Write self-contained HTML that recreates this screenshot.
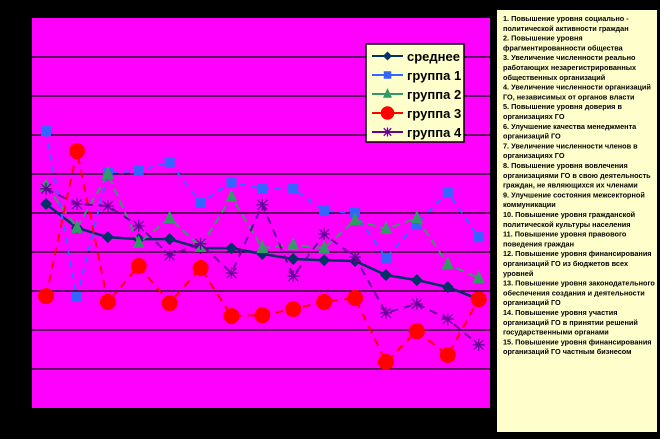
<!DOCTYPE html>
<html><head><meta charset="utf-8"><style>
html,body{margin:0;padding:0;background:#000;}
svg{display:block;font-family:"Liberation Sans",sans-serif;}
</style></head><body>
<svg id="chart" width="660" height="439">
<rect x="0" y="0" width="660" height="439" fill="#000"/>
<rect x="32" y="18" width="458" height="390" fill="#FF00FF"/>
<g id="grid"></g>
<g id="series"></g>
<g id="legend">
<rect x="366" y="44" width="98" height="98" fill="#FFFFCC" stroke="#000" stroke-width="1.5"/>
</g>
<rect x="497" y="10" width="160" height="422" fill="#FFFFCC"/>
<g id="notes" font-size="7.3" font-weight="bold" fill="#000"></g>
</svg>
<script>
const categories=["1","2","3","4","5","6","7","8","9","10","11","12","13","14","15"];
const seriesNames=["среднее","группа 1","группа 2","группа 3","группа 4"];
const avgValues=[5.23,4.62,4.38,4.33,4.33,4.10,4.10,3.95,3.82,3.79,3.77,3.41,3.28,3.10,2.79];
const group1Values=[7.10,2.85,6.03,6.08,6.31,5.26,5.79,5.62,5.62,5.05,5.00,3.85,4.72,5.54,4.38];
const group2Values=[5.69,4.62,6.00,4.23,4.87,4.13,5.41,4.10,4.18,4.10,4.82,4.59,4.87,3.69,3.33];
const group3Values=[2.87,6.59,2.72,3.64,2.69,3.59,2.36,2.38,2.54,2.72,2.82,1.18,1.97,1.36,2.79];
const group4Values=[5.62,5.23,5.18,4.67,3.92,4.21,3.46,5.21,3.38,4.46,3.87,2.44,2.67,2.28,1.62];
const gridTicks=[1,2,3,4,5,6,7,8,9];
const notes=["1. Повышение уровня социально -","политической активности граждан","2. Повышение уровня","фрагментированности общества","3. Увеличение численности реально","работающих незарегистрированных","общественных организаций","4. Увеличение численности организаций","ГО, независимых от органов власти","5. Повышение уровня доверия в","организациях ГО","6. Улучшение качества менеджмента","организаций ГО","7. Увеличение численности членов в","организациях ГО","8. Повышение уровня вовлечения","организациями ГО в свою деятельность","граждан, не являющихся их членами","9. Улучшение состояния межсекторной","коммуникации","10. Повышение уровня гражданской","политической культуры населения","11. Повышение уровня правового","поведения граждан","12. Повышение уровня финансирования","организаций ГО из бюджетов всех","уровней","13. Повышение уровня законодательного","обеспечения создания и деятельности","организаций ГО","14. Повышение уровня участия","организаций ГО в принятии решений","государственными органами","15. Повышение уровня финансирования","организаций ГО частным бизнесом"];

const NS="http://www.w3.org/2000/svg";
const left=30.6, bandW=30.9, y0=408, unit=39;
function xs(i){return left+(i+0.5)*bandW;}
function ys(v){return y0-v*unit;}
function mk(tag,attrs,parent){const e=document.createElementNS(NS,tag);for(const k in attrs)e.setAttribute(k,attrs[k]);parent.appendChild(e);return e;}

const grid=document.getElementById('grid');
gridTicks.forEach(t=>{
  const l=mk('line',{x1:32,x2:490,y1:ys(t),y2:ys(t),stroke:'#000','stroke-width':1.2},grid);
  
  
});

const styles=[
 {c:'#003366',m:'diamond',vals:avgValues,dash:'none',w:2.5},
 {c:'#3366FF',m:'square',vals:group1Values,dash:'6 6',w:2},
 {c:'#339966',m:'triangle',vals:group2Values,dash:'8 5',w:2},
 {c:'#FF0000',m:'circle',vals:group3Values,dash:'8 6',w:2},
 {c:'#660099',m:'star',vals:group4Values,dash:'8 6',w:2}
];
function marker(type,x,y,c,parent,s){
  s=s||1;let e;
  if(type==='diamond')e=mk('polygon',{points:`${x},${y-6*s} ${x+6*s},${y} ${x},${y+6*s} ${x-6*s},${y}`,fill:c},parent);
  else if(type==='square')e=mk('rect',{x:x-5*s,y:y-5*s,width:10*s,height:10*s,fill:c},parent);
  else if(type==='triangle')e=mk('polygon',{points:`${x},${y-8*s} ${x+6*s},${y+5*s} ${x-6*s},${y+5*s}`,fill:c},parent);
  else if(type==='circle')e=mk('circle',{cx:x,cy:y,r:8*s,fill:c},parent);
  else {e=mk('path',{d:`M${x-5*s} ${y-5*s}L${x+5*s} ${y+5*s}M${x+5*s} ${y-5*s}L${x-5*s} ${y+5*s}M${x} ${y-6*s}V${y+6*s}M${x-6*s} ${y}H${x+6*s}`,stroke:c,'stroke-width':1.3,fill:'none'},parent);}
  return e;
}
const sl=document.getElementById('series');
styles.forEach((st,si)=>{
  const g=mk('g',{},sl);
  
  
  const pts=st.vals.map((v,i)=>xs(i)+','+ys(v)).join(' ');
  const pl=mk('polyline',{points:pts,fill:'none',stroke:st.c,'stroke-width':st.w,'stroke-dasharray':st.dash},g);
  
  
  st.vals.forEach((v,i)=>{
    const m=marker(st.m,xs(i),ys(v),st.c,g);
    
    
  });
});

const lg=document.getElementById('legend');
styles.forEach((st,i)=>{
  const y=56+i*19;
  const g=mk('g',{},lg);
  
  
  mk('line',{x1:372,x2:403,y1:y,y2:y,stroke:st.c,'stroke-width':2},g);
  marker(st.m,387.5,y,st.c,g,st.m==='circle'?0.85:0.75);
  const t=mk('text',{x:407,y:y+5,'font-size':13,'font-weight':'bold',fill:'#000'},g);
  t.textContent=seriesNames[i];
});

const nt=document.getElementById('notes');
notes.forEach((s,i)=>{
  const t=mk('text',{x:503,y:21+i*9.8},nt);
  
  
  t.textContent=s;
});
</script>
</body></html>
